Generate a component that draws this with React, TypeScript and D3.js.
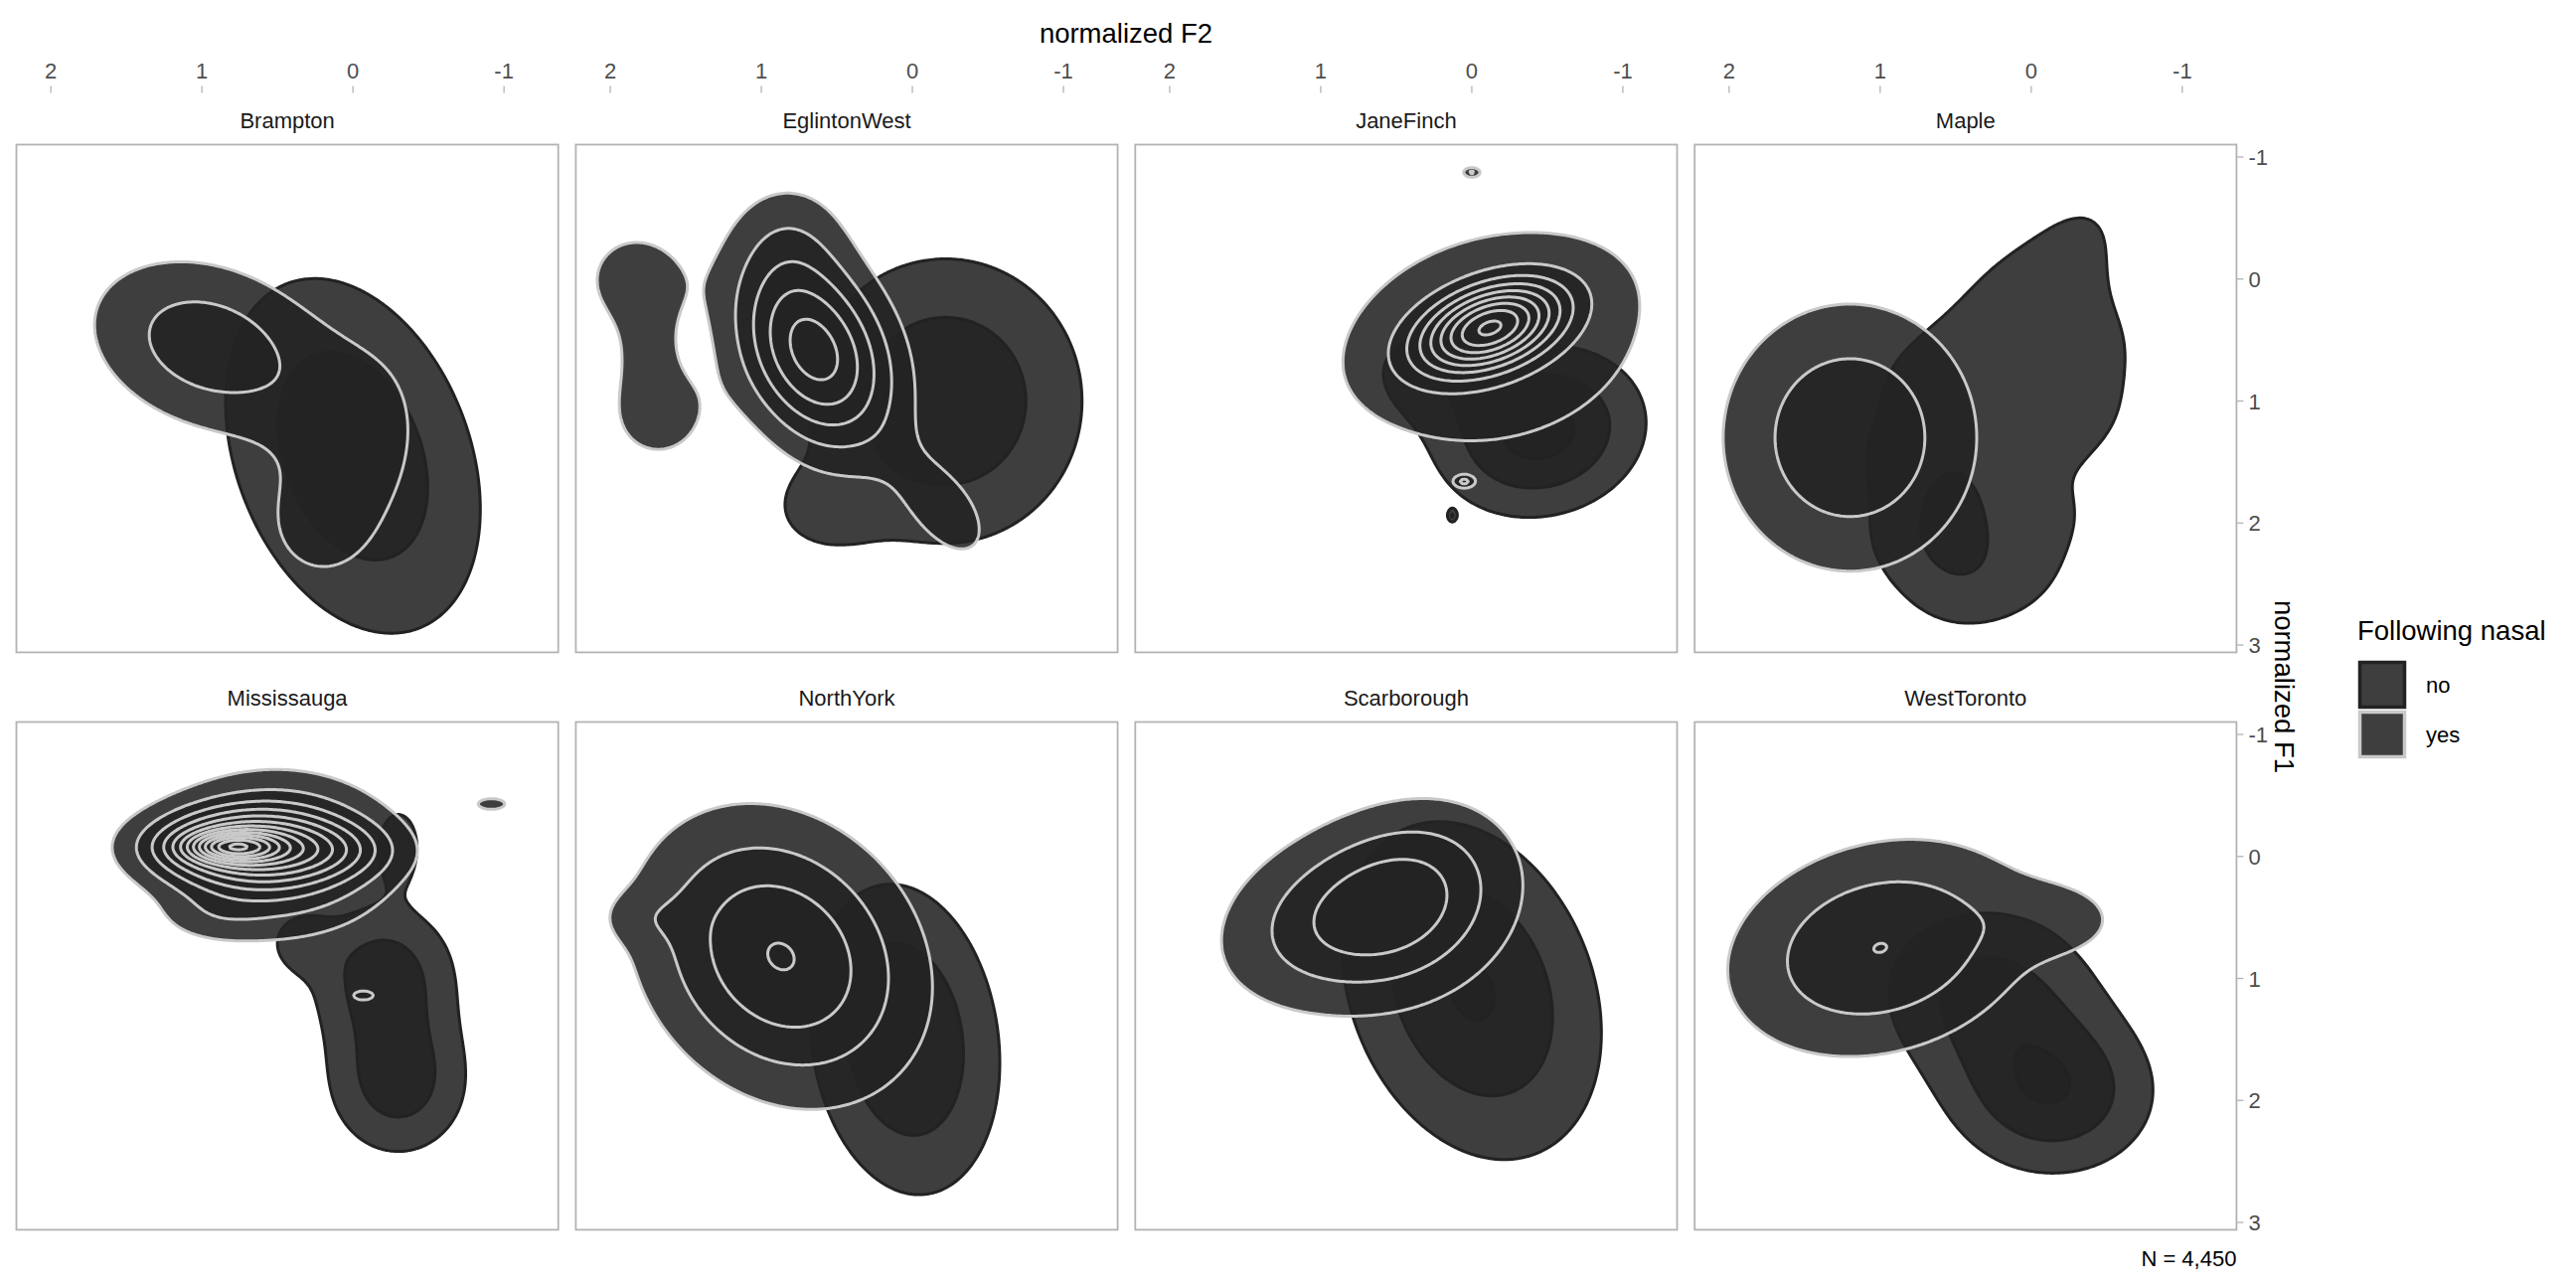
import { useMemo } from 'react';
import * as d3 from 'd3';

// facets and groups
const regions = ['Brampton', 'EglintonWest', 'JaneFinch', 'Maple', 'Mississauga', 'NorthYork', 'Scarborough', 'WestToronto'];
const nasalGroups = ['no', 'yes'];
const f2Ticks = [2, 1, 0, -1];
const f1Ticks = [-1, 0, 1, 2, 3];
const f2Domain = [2.228, -1.359];
const f1Domain = [-1.102, 3.06];
const contourStep = 0.1;
const totalN = 4450;

// density, as gaussian components:
// [F2, F1, sdF2, sdF1, rho, mass]
const bramptonNo = [
  [0.0, 1.45, 0.58, 1.0, -0.3, 1.0],
];
const bramptonYes = [
  [0.95, 0.55, 0.55, 0.5, -0.25, 0.435],
  [0.0, 1.55, 0.4, 0.75, 0.3, 0.245],
  [0.25, 2.0, 0.2, 0.25, 0, 0.022],
];
const eglintonNo = [
  [-0.22, 1.0, 0.62, 0.8, 0, 0.9],
  [0.6, 1.9, 0.25, 0.25, 0, 0.04],
];
const eglintonYes = [
  [1.84, 0.0, 0.25, 0.3, 0, 0.075],
  [1.68, 1.12, 0.25, 0.3, 0, 0.07],
  [1.76, 0.58, 0.15, 0.3, 0, 0.03],
  [0.65, 0.59, 0.36, 0.55, -0.3, 0.65],
  [0.8, -0.4, 0.28, 0.35, 0, 0.06],
  [-0.22, 1.9, 0.25, 0.35, -0.5, 0.07],
];
const janeFinchNo = [
  [-0.45, 1.25, 0.45, 0.45, 0.1, 0.43],
  [0.3, 0.75, 0.3, 0.3, 0, 0.08],
  [0.13, 1.94, 0.02, 0.035, 0, 0.0007],
];
const janeFinchYes = [
  [-0.12, 0.4, 0.32, 0.25, 0.4, 0.36],
  [-0.15, 0.5, 1.1, 1.0, 0.15, 0.957],
  [0.0, -0.875, 0.035, 0.025, 0, 0.0009],
  [0.05, 1.66, 0.04, 0.03, 0, 0.0012],
];
const mapleNo = [
  [-0.3, -0.3, 0.3, 0.4, 0.3, 0.075],
  [0.05, 0.05, 0.3, 0.3, 0, 0.04],
  [-0.42, 0.45, 0.35, 0.35, 0, 0.0577],
  [-0.4, 1.15, 0.35, 0.35, 0, 0.0577],
  [-0.22, 1.9, 0.35, 0.35, 0, 0.0577],
  [0.05, 2.45, 0.35, 0.35, 0, 0.0577],
  [0.5, 2.6, 0.35, 0.35, 0, 0.0577],
  [0.9, 2.15, 0.35, 0.35, 0, 0.0577],
  [1.0, 1.45, 0.35, 0.35, 0, 0.0577],
  [0.8, 0.8, 0.35, 0.35, 0, 0.0577],
  [0.35, 0.45, 0.35, 0.35, 0, 0.0577],
  [0.25, 1.2, 0.35, 0.35, 0, 0.0577],
  [-0.05, 0.7, 0.35, 0.35, 0, 0.0577],
  [0.5, 1.9, 0.25, 0.4, 0, 0.1],
];
const mapleYes = [
  [1.2, 1.3, 0.575, 0.75, 0, 0.786],
];
const mississaugaNo = [
  [-0.2, 0.95, 0.33, 0.4, 0, 0.2],
  [-0.3, 1.85, 0.32, 0.42, 0, 0.21],
  [-0.3, -0.1, 0.12, 0.25, 0, 0.03],
  [0.35, 0.7, 0.15, 0.18, 0, 0.022],
];
const mississaugaYes = [
  [0.8, -0.08, 0.2, 0.08, 0, 0.05],
  [0.75, -0.08, 0.42, 0.2, 0, 0.26],
  [0.5, -0.02, 0.5, 0.42, 0, 0.5],
  [0.15, -0.05, 0.3, 0.15, 0, 0.04],
  [0.95, 0.5, 0.25, 0.15, 0, 0.015],
  [-0.92, -0.43, 0.1, 0.05, 0, 0.0044],
  [-0.07, 1.14, 0.08, 0.045, 0, 0.003],
];
const northYorkNo = [
  [0.05, 1.5, 0.42, 0.85, -0.15, 0.68],
];
const northYorkYes = [
  [0.87, 0.82, 0.6, 0.75, -0.2, 1.12],
  [1.8, 0.5, 0.2, 0.15, 0, 0.01],
];
const scarboroughNo = [
  [0.0, 1.1, 0.57, 0.92, -0.25, 0.99],
];
const scarboroughYes = [
  [0.88, 0.5, 0.5, 0.45, 0.3, 0.25],
  [0.38, 0.35, 0.42, 0.5, 0.2, 0.24],
  [0.6, 0.5, 0.95, 0.8, 0.1, 0.38],
];
const westTorontoNo = [
  [-0.15, 1.95, 0.45, 0.45, 0, 0.35],
  [0.3, 1.1, 0.5, 0.5, 0, 0.35],
];
const westTorontoYes = [
  [1.0, 0.75, 0.68, 0.6, 0.2, 0.755],
  [-0.22, 0.52, 0.3, 0.22, 0, 0.042],
];

const componentTable = {
  Brampton: { no: bramptonNo, yes: bramptonYes },
  EglintonWest: { no: eglintonNo, yes: eglintonYes },
  JaneFinch: { no: janeFinchNo, yes: janeFinchYes },
  Maple: { no: mapleNo, yes: mapleYes },
  Mississauga: { no: mississaugaNo, yes: mississaugaYes },
  NorthYork: { no: northYorkNo, yes: northYorkYes },
  Scarborough: { no: scarboroughNo, yes: scarboroughYes },
  WestToronto: { no: westTorontoNo, yes: westTorontoYes },
};

const strokeColors = { no: '#222222', yes: '#c9c9c9' };
const font = '"Liberation Sans", Arial, sans-serif';

function mixture(comps: number[][], f2: number, f1: number) {
  let s = 0;
  for (const [mx, my, sx, sy, r, w] of comps) {
    const dx = (f2 - mx) / sx;
    const dy = (f1 - my) / sy;
    const q = 1 - r * r;
    const m = (dx * dx - 2 * r * dx * dy + dy * dy) / q;
    s += (w / (2 * Math.PI * sx * sy * Math.sqrt(q))) * Math.exp(-0.5 * m);
  }
  return s;
}

export default function App() {
  const width = 2592;
  const height = 1296;
  const panelW = 545.2;
  const panelH = 510.9;
  const lefts = [16.5, 579.4, 1142.3, 1705.2];
  const tops = [145.5, 726.5];

  const x = d3.scaleLinear().domain(f2Domain).range([0, panelW]);
  const y = d3.scaleLinear().domain(f1Domain).range([0, panelH]);

  const cell = 2;
  const nx = Math.ceil(panelW / cell);
  const ny = Math.ceil(panelH / cell);
  const levels = d3.range(1, 18).map((k) => k * contourStep);

  const panels = useMemo(() => {
    const gen = d3.contours().size([nx, ny]).thresholds(levels);
    const path = d3.geoPath(
      d3.geoTransform({
        point(px, py) {
          this.stream.point(px * cell, py * cell);
        },
      })
    );
    return regions.map((region) => {
      const layers = nasalGroups.map((g) => {
        const comps = componentTable[region][g];
        const values = new Float64Array(nx * ny);
        for (let j = 0; j < ny; j++) {
          const f1 = y.invert((j + 0.5) * cell);
          for (let i = 0; i < nx; i++) {
            const f2 = x.invert((i + 0.5) * cell);
            values[j * nx + i] = mixture(comps, f2, f1);
          }
        }
        const paths = gen(values as any)
          .filter((c) => c.coordinates.length > 0)
          .map((c) => path(c));
        return { group: g, paths };
      });
      return { region, layers };
    });
  }, []);

  const panelRight = lefts[3] + panelW;

  return (
    <svg
      width={width}
      height={height}
      style={{ position: 'absolute', left: 0, top: 0, background: '#fff' }}
      fontFamily={font}
    >
      <rect width={width} height={height} fill="#fff" />
      <defs>
        <clipPath id="panel-clip">
          <rect width={panelW} height={panelH} />
        </clipPath>
      </defs>

      {/* top axis title */}
      <text x={1133} y={43} textAnchor="middle" fontSize={27.5} fill="#000">
        normalized F2
      </text>

      {/* top axes, one per column */}
      {lefts.map((lx, ci) => (
        <g key={'xa' + ci} transform={`translate(${lx},0)`}>
          {f2Ticks.map((t) => (
            <g key={t} transform={`translate(${x(t)},0)`}>
              <text y={79} textAnchor="middle" fontSize={22} fill="#4d4d4d">
                {String(t)}
              </text>
              <line y1={86.5} y2={93.5} stroke="#b3b3b3" strokeWidth={1.3} />
            </g>
          ))}
        </g>
      ))}

      {/* panels */}
      {panels.map((p, idx) => {
        const col = idx % 4;
        const row = Math.floor(idx / 4);
        const px = lefts[col];
        const py = tops[row];
        return (
          <g key={p.region} transform={`translate(${px},${py})`}>
            <text x={panelW / 2} y={-16.5} textAnchor="middle" fontSize={22} fill="#1a1a1a">
              {p.region}
            </text>
            <rect width={panelW} height={panelH} fill="#fff" />
            <g clipPath="url(#panel-clip)">
              {p.layers.map((layer) =>
                layer.paths.map((d, k) => (
                  <path
                    key={layer.group + k}
                    d={d || ''}
                    fill="rgb(35,35,35)"
                    fillOpacity={0.88}
                    stroke={strokeColors[layer.group]}
                    strokeWidth={3}
                    strokeLinejoin="round"
                  />
                ))
              )}
            </g>
            <rect width={panelW} height={panelH} fill="none" stroke="#b3b3b3" strokeWidth={1.8} />
          </g>
        );
      })}

      {/* right axes, one per row */}
      {tops.map((ty, ri) => (
        <g key={'ya' + ri} transform={`translate(${panelRight},${ty})`}>
          {f1Ticks.map((t) => (
            <g key={t} transform={`translate(0,${y(t)})`}>
              <line x1={0} x2={7} stroke="#b3b3b3" strokeWidth={1.3} />
              <text x={12} y={8} fontSize={22} fill="#4d4d4d">
                {String(t)}
              </text>
            </g>
          ))}
        </g>
      ))}

      <text transform="translate(2289,691) rotate(90)" textAnchor="middle" fontSize={27.5} fill="#000">
        normalized F1
      </text>

      {/* legend */}
      <g transform="translate(2372,0)">
        <text x={0} y={644} fontSize={27.5} fill="#000">
          Following nasal
        </text>
        {nasalGroups.map((g, i) => (
          <g key={g} transform={`translate(0,${664 + i * 50})`}>
            <rect x={2.5} y={2.5} width={45} height={45} fill="#fff" />
            <rect
              x={2.5}
              y={2.5}
              width={45}
              height={45}
              fill="rgb(35,35,35)"
              fillOpacity={0.88}
              stroke={strokeColors[g]}
              strokeWidth={3.5}
            />
            <text x={69} y={33} fontSize={22} fill="#000">
              {g}
            </text>
          </g>
        ))}
      </g>

      <text x={panelRight} y={1274} textAnchor="end" fontSize={22} fill="#000">
        {`N = ${d3.format(',')(totalN)}`}
      </text>
    </svg>
  );
}
